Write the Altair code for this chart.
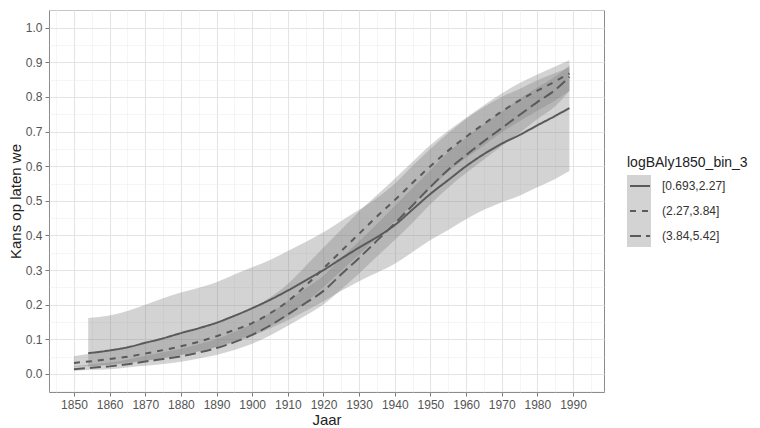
import altair as alt
import pandas as pd

groups = ["[0.693,2.27]", "(2.27,3.84]", "(3.84,5.42]"]

years_1 = [1854, 1860, 1865, 1870, 1875, 1880, 1885, 1890, 1895, 1900, 1905, 1910, 1915, 1920,
           1925, 1930, 1935, 1940, 1945, 1950, 1955, 1960, 1965, 1970, 1975, 1980, 1985, 1989]
fit_1 = [.060, .068, .077, .090, .103, .118, .132, .148, .168, .190, .214, .241, .270, .300,
         .333, .365, .395, .430, .475, .520, .560, .600, .635, .665, .690, .718, .745, .768]
lo_1 = [.021, .026, .030, .038, .045, .055, .065, .077, .092, .110, .131, .155, .182, .210,
        .240, .268, .292, .318, .352, .387, .416, .447, .474, .496, .515, .539, .563, .586]
hi_1 = [.162, .169, .182, .200, .219, .235, .249, .265, .287, .308, .329, .355, .381, .409,
        .442, .474, .508, .549, .601, .650, .695, .736, .771, .800, .823, .848, .869, .886]

years_23 = [1850, 1855, 1860, 1865, 1870, 1875, 1880, 1885, 1890, 1895, 1900, 1905, 1910, 1915,
            1920, 1925, 1930, 1935, 1940, 1945, 1950, 1955, 1960, 1965, 1970, 1975, 1980, 1985, 1989]
fit_2 = [.032, .037, .043, .050, .059, .069, .080, .093, .109, .127, .147, .175, .210, .255,
         .305, .355, .405, .455, .502, .552, .600, .645, .685, .722, .758, .790, .818, .845, .868]
lo_2 = [.020, .023, .027, .033, .039, .046, .055, .066, .079, .096, .113, .137, .167, .206,
        .251, .298, .344, .394, .440, .490, .536, .584, .624, .660, .697, .730, .760, .790, .818]
hi_2 = [.052, .059, .067, .076, .088, .101, .115, .129, .148, .167, .189, .221, .260, .312,
        .365, .417, .469, .517, .564, .613, .661, .702, .740, .776, .810, .840, .865, .888, .906]

fit_3 = [.014, .018, .022, .028, .036, .043, .051, .062, .075, .092, .113, .140, .172, .205,
         .240, .288, .335, .385, .435, .487, .540, .590, .632, .672, .710, .748, .785, .820, .858]
lo_3 = [.009, .012, .014, .019, .024, .029, .035, .045, .055, .069, .087, .111, .139, .169,
        .201, .245, .290, .339, .387, .437, .490, .538, .580, .619, .658, .696, .736, .773, .817]
hi_3 = [.022, .028, .033, .042, .053, .063, .073, .086, .101, .121, .145, .176, .211, .247,
        .284, .335, .383, .433, .485, .537, .589, .640, .682, .721, .757, .794, .827, .859, .891]

rows = []
for g, ys, f, lo, hi in [(groups[0], years_1, fit_1, lo_1, hi_1),
                         (groups[1], years_23, fit_2, lo_2, hi_2),
                         (groups[2], years_23, fit_3, lo_3, hi_3)]:
    for yr, a, b, c in zip(ys, f, lo, hi):
        rows.append({"group": g, "jaar": yr, "fit": a, "lo": b, "hi": c})
df = pd.DataFrame(rows)

FONT = "Liberation Sans"
LEGEND_TITLE = "logBAly1850_bin_3"
band_keys = [g + " " for g in groups]

x_ticks = list(range(1845, 2000, 5))
y_ticks = [round(i * 0.05, 2) for i in range(-1, 22)]

minor_x = "datum.value % 10 !== 0"
minor_y = "round(datum.value * 20) % 2 !== 0"

x_axis = alt.Axis(
    title="Jaar", values=x_ticks, format="d",
    labelExpr="datum.value % 10 === 0 ? datum.label : ''",
    tickOpacity={"condition": {"test": minor_x, "value": 0}, "value": 1},
    gridWidth={"condition": {"test": minor_x, "value": 0.6}, "value": 1.1},
    gridColor={"condition": {"test": minor_x, "value": "#efefef"}, "value": "#e4e4e4"},
    labelFlush=False, labelOverlap=False, titlePadding=2,
)
y_axis = alt.Axis(
    title="Kans op laten we", values=y_ticks, format=".1f",
    labelExpr="round(datum.value * 20) % 2 === 0 ? datum.label : ''",
    tickOpacity={"condition": {"test": minor_y, "value": 0}, "value": 1},
    gridWidth={"condition": {"test": minor_y, "value": 0.6}, "value": 1.1},
    gridColor={"condition": {"test": minor_y, "value": "#efefef"}, "value": "#e4e4e4"},
    labelFlush=False, labelOverlap=False, titlePadding=2,
)

x_enc = alt.X("jaar:Q", scale=alt.Scale(domain=[1843, 1998.7], nice=False, zero=False), axis=x_axis)
y_scale = alt.Scale(domain=[-0.052, 1.051], nice=False, zero=False)

area = alt.Chart(df).transform_calculate(g2="datum.group + ' '").mark_area(
    opacity=0.35, interpolate="monotone"
).encode(
    x=x_enc,
    y=alt.Y("lo:Q", scale=y_scale, axis=y_axis),
    y2="hi:Q",
    fill=alt.Fill("g2:N", scale=alt.Scale(domain=band_keys, range=["#808080", "#808080", "#808080"]),
                  legend=alt.Legend(title=LEGEND_TITLE, orient="none", legendX=578, legendY=146,
                                    symbolType="square", symbolSize=576, symbolOpacity=0.35,
                                    symbolStrokeWidth=0, labelExpr="''", labelOpacity=0, titleOpacity=0,
                                    rowPadding=0, padding=0, titlePadding=5,
                                    titleFont=FONT, titleFontSize=14, titleFontWeight="normal",
                                    labelFont=FONT, labelFontSize=12)),
)

line = alt.Chart(df).mark_line(color="#5a5a5a", strokeWidth=2, interpolate="monotone").encode(
    x=x_enc,
    y=alt.Y("fit:Q", scale=y_scale, axis=y_axis),
    strokeDash=alt.StrokeDash("group:N", scale=alt.Scale(domain=groups, range=[[1, 0], [6, 6], [11, 5]]),
                              legend=alt.Legend(title=LEGEND_TITLE, orient="none", legendX=578, legendY=146,
                                                symbolType="stroke", symbolSize=400, symbolStrokeWidth=2,
                                                symbolOffset=2,
                                                symbolStrokeColor="#5a5a5a", rowPadding=8, padding=0,
                                                titlePadding=5, labelOffset=11,
                                                titleFont=FONT, titleFontSize=14, titleFontWeight="normal",
                                                titleColor="#222222",
                                                labelFont=FONT, labelFontSize=12, labelColor="#333333")),
)

chart = alt.layer(area, line).properties(
    width=555, height=382,
    autosize=alt.AutoSizeParams(type="none"),
    padding={"left": 41, "top": 2, "right": 148, "bottom": 36},
    background="white",
).configure_view(
    stroke="#8c8c8c", strokeWidth=1
).configure_axis(
    domain=False, ticks=True, tickColor="#777777", tickSize=4, tickWidth=1,
    labelColor="#555555", labelFont=FONT, labelFontSize=12, labelPadding=3,
    titleFont=FONT, titleFontSize=15, titleFontWeight="normal", titleColor="#222222",
)

chart.save("out.html", embed_options={"renderer": "svg", "actions": False})
